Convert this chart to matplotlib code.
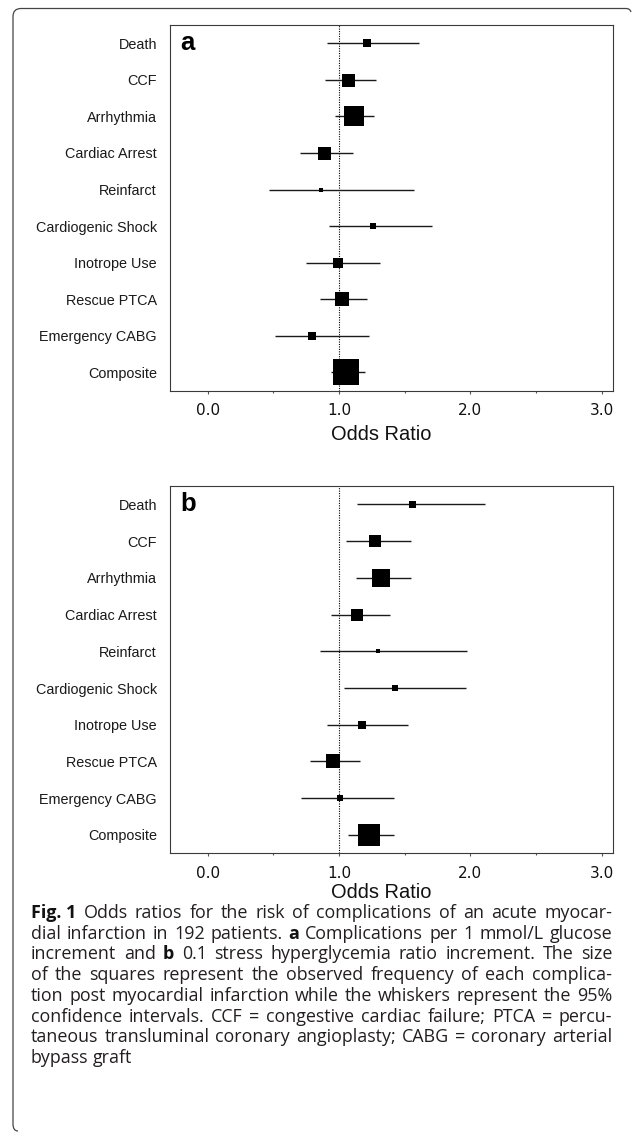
import numpy as np
import matplotlib
matplotlib.use('Agg')
import matplotlib.pyplot as plt
from matplotlib.path import Path
from matplotlib.patches import PathPatch
from matplotlib.ticker import MultipleLocator, FormatStrFormatter

labels = ["Death", "CCF", "Arrhythmia", "Cardiac Arrest", "Reinfarct",
          "Cardiogenic Shock", "Inotrope Use", "Rescue PTCA",
          "Emergency CABG", "Composite"]

# panel a: per 1 mmol/L glucose increment
or_a = [1.21, 1.07, 1.115, 0.887, 0.862, 1.259, 0.99, 1.022, 0.791, 1.057]
lo_a = [0.905, 0.89, 0.97, 0.70, 0.47, 0.924, 0.747, 0.859, 0.515, 0.94]
hi_a = [1.61, 1.28, 1.27, 1.11, 1.57, 1.709, 1.309, 1.216, 1.225, 1.197]
freq_a = [7.3, 13, 20, 13, 3.7, 5.7, 10, 14.2, 8.1, 25.2]

# panel b: per 0.1 stress hyperglycemia ratio increment
or_b = [1.557, 1.277, 1.318, 1.141, 1.299, 1.43, 1.175, 0.951, 1.011, 1.228]
lo_b = [1.14, 1.054, 1.126, 0.943, 0.859, 1.039, 0.905, 0.778, 0.713, 1.067]
hi_b = [2.109, 1.547, 1.547, 1.386, 1.976, 1.969, 1.529, 1.16, 1.42, 1.42]
freq_b = [7, 12.2, 17.9, 11.4, 3.3, 5.7, 8.1, 13.4, 6.5, 22.8]

caption = [
    "**Fig.\u00a01**  Odds ratios for the risk of complications of an acute myocar-",
    "dial infarction in 192 patients. **a** Complications per 1 mmol/L glucose",
    "increment and **b** 0.1 stress hyperglycemia ratio increment. The size",
    "of the squares represent the observed frequency of each complica-",
    "tion post myocardial infarction while the whiskers represent the 95%",
    "confidence intervals. CCF = congestive cardiac failure; PTCA = percu-",
    "taneous transluminal coronary angioplasty; CABG = coronary arterial",
    "bypass graft",
]

W, H = 634, 1132
fig = plt.figure(figsize=(W / 100, H / 100), dpi=100)


def box(l, t, r, b):
    return [l / W, 1 - b / H, (r - l) / W, (b - t) / H]


def forest(ax, odds, lo, hi, freq, tag, label_y):
    y = np.arange(len(labels))
    ax.axvline(1.0, color='black', lw=0.8, ls=(0, (1, 1.2)), zorder=1)
    ax.hlines(y, lo, hi, color='#1a1a1a', lw=1.0, zorder=2)
    for yi, o, s in zip(y, odds, freq):
        ax.plot(o, yi, 's', ms=s * 0.72, color='black', mew=0, zorder=3)
    ax.set_xlim(-0.287, 3.087)
    ax.set_ylim(len(labels) - 0.5, -0.5)
    ax.set_yticks(y)
    ax.set_yticklabels(labels, fontfamily='Liberation Sans', fontsize=10.4, color='#1a1a1a')
    ax.tick_params(axis='y', length=0, pad=9.4)
    ax.xaxis.set_major_locator(MultipleLocator(1))
    ax.xaxis.set_minor_locator(MultipleLocator(0.5))
    ax.xaxis.set_major_formatter(FormatStrFormatter('%.1f'))
    ax.tick_params(axis='x', which='major', length=2.4, width=0.8, color='#555555',
                   pad=6.5, labelsize=11, labelcolor='#111111')
    ax.tick_params(axis='x', which='minor', length=1.3, width=0.8, color='#555555')
    for sp in ax.spines.values():
        sp.set_color('#3a3a3a')
        sp.set_linewidth(0.8)
    ax.set_xlabel('Odds Ratio', fontfamily='Liberation Sans', fontsize=14.4, color='#111111')
    ax.xaxis.label.set_va('center')
    ax.xaxis.set_label_coords(0.4757, label_y)
    ax.annotate(tag, xy=(0.0226, 0), xycoords=('axes fraction', 'data'),
                xytext=(0, -5), textcoords='offset points', va='baseline',
                fontfamily='Liberation Sans', fontweight='bold', fontsize=18.5)


ax_a = fig.add_axes(box(170, 25, 613, 390.7))
forest(ax_a, or_a, lo_a, hi_a, freq_a, 'a', -0.121)
ax_b = fig.add_axes(box(170, 486, 613, 853.3))
forest(ax_b, or_b, lo_b, hi_b, freq_b, 'b', -0.108)

# rounded frame on the left/top
def P(x, y):
    return (x / W, 1 - y / H)

verts = [P(631, 12), P(630, 8.5), P(626, 8.5), P(21, 8.5), P(13, 8.5), P(13, 16.5),
         P(13, 1124), P(13, 1131), P(18, 1131)]
codes = [Path.MOVETO, Path.CURVE3, Path.CURVE3, Path.LINETO, Path.CURVE3, Path.CURVE3,
         Path.LINETO, Path.CURVE3, Path.CURVE3]
fig.add_artist(PathPatch(Path(verts, codes), transform=fig.transFigure,
                         fill=False, edgecolor='#444444', lw=0.9))

# justified caption
cap_font = 'Open Sans'
L, R = 31, 612
base_lines = [913, 933.7, 954.4, 975.1, 995.8, 1016.5, 1037.2, 1057.9]
renderer = fig.canvas.get_renderer()


def parse(line):
    toks = []
    for t in line.split(' '):
        if t == '':
            continue
        bold = t.startswith('**') and t.endswith('**')
        toks.append((t.strip('*'), bold))
    return toks


def measure(tok, size, bold):
    t = fig.text(0, 0, tok, fontsize=size, fontfamily=cap_font,
                 fontweight='bold' if bold else 'normal')
    w = t.get_window_extent(renderer).width
    t.remove()
    return w


def line_width(toks, size):
    sp = measure('x x', size, False) - measure('xx', size, False)
    ws = [measure(t, size, b) for t, b in toks]
    return ws, sp


parsed = [parse(l) for l in caption]
nat = []
for toks in parsed[:-1]:
    ws, sp = line_width(toks, 10)
    nat.append(sum(ws) + sp * (len(toks) - 1))
size = 10 * (R - L) / max(nat) * 0.985

for i, toks in enumerate(parsed):
    ws, sp = line_width(toks, size)
    if i < len(parsed) - 1:
        gap = (R - L - sum(ws)) / (len(toks) - 1)
    else:
        gap = sp
    x = L
    yb = base_lines[i] + 5
    for (t, b), w in zip(toks, ws):
        fig.text(x / W, 1 - yb / H, t, fontsize=size, fontfamily=cap_font,
                 fontweight='bold' if b else 'normal',
                 color='#111111' if b else '#231f20', va='baseline', ha='left')
        x += w + gap

fig.savefig('out.png', dpi=100)
